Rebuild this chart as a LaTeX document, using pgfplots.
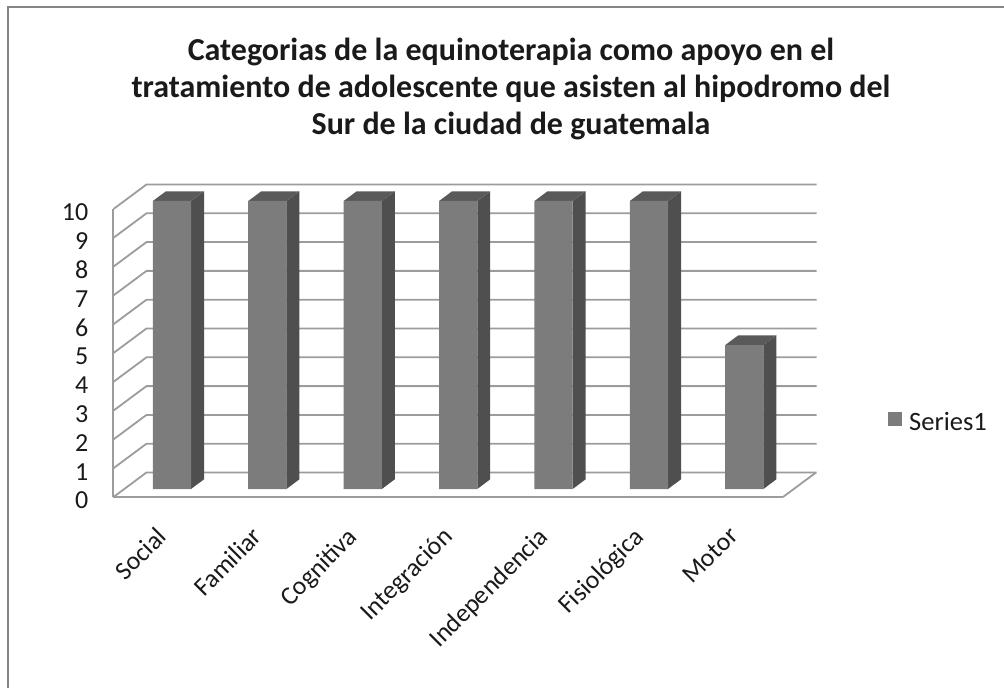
\documentclass[border=0pt]{standalone}
\usepackage{pgfplots}
\pgfplotsset{compat=1.18}
\usepackage{fontspec}
\setmainfont{Carlito}
\definecolor{front}{HTML}{7C7C7C}
\definecolor{side}{HTML}{4F4F4F}
\definecolor{topf}{HTML}{5A5A5A}
\definecolor{gridc}{HTML}{9C9C9C}
\definecolor{txt}{HTML}{1A1A1A}
\begin{document}
\begin{tikzpicture}[x=1pt,y=1pt]
\begin{axis}[
  x=95.4pt, y=28.8pt,
  xmin=-0.613, xmax=6.405, ymin=0, ymax=10,
  clip=false,
  scale only axis,
  axis x line=bottom, axis y line=left,
  x axis line style={gridc,line width=2pt,-},
  y axis line style={gridc,line width=2pt,-},
  xtick={0,1,2,3,4,5,6},
  xticklabels={Social,Familiar,Cognitiva,Integración,Independencia,Fisiológica,Motor},
  ytick={0,1,...,10},
  tick style={draw=none},
  major tick length=0pt,
  /pgf/number format/assume math mode=true,
  xticklabel style={rotate=45,anchor=north east,font=\fontsize{25.8}{25.8}\selectfont,text=txt,inner sep=0pt,xshift=-32pt,yshift=-8.4pt},
  yticklabel style={font=\fontsize{26}{26}\selectfont,text=txt,anchor=east,inner sep=0pt,xshift=-25pt,yshift=-3.5pt},
  legend style={at={(axis cs:6.405,0)},anchor=south west,draw=none,fill=none,xshift=105pt,yshift=63pt,
     font=\fontsize{26.5}{26.5}\selectfont,text=txt,inner sep=0pt,legend cell align=left},
  legend image code/.code={\fill[front] (0pt,-12pt) rectangle (14pt,2pt);},
  barup/.style={yshift=8pt},
]
% walls
\pgfplotsinvokeforeach{0,1,...,10}{
  \draw[gridc,line width=1.8pt] (axis cs:-0.613,#1) -- ++(33pt,24.5pt) -- ++(670pt,0pt);
}
\draw[gridc,line width=1.8pt] (axis cs:6.405,0) -- ++(33pt,24.5pt);
% bar sides and tops
\addplot[barup,forget plot,fill=side,draw=none] coordinates {(0.2,0)(0.336,0.337)(0.336,10.337)(0.2,10)} --cycle;
\addplot[barup,forget plot,fill=topf,draw=none] coordinates {(-0.2,10)(-0.064,10.337)(0.336,10.337)(0.2,10)} --cycle;
\addplot[barup,forget plot,fill=side,draw=none] coordinates {(1.2,0)(1.336,0.337)(1.336,10.337)(1.2,10)} --cycle;
\addplot[barup,forget plot,fill=topf,draw=none] coordinates {(0.8,10)(0.936,10.337)(1.336,10.337)(1.2,10)} --cycle;
\addplot[barup,forget plot,fill=side,draw=none] coordinates {(2.2,0)(2.336,0.337)(2.336,10.337)(2.2,10)} --cycle;
\addplot[barup,forget plot,fill=topf,draw=none] coordinates {(1.8,10)(1.936,10.337)(2.336,10.337)(2.2,10)} --cycle;
\addplot[barup,forget plot,fill=side,draw=none] coordinates {(3.2,0)(3.336,0.337)(3.336,10.337)(3.2,10)} --cycle;
\addplot[barup,forget plot,fill=topf,draw=none] coordinates {(2.8,10)(2.936,10.337)(3.336,10.337)(3.2,10)} --cycle;
\addplot[barup,forget plot,fill=side,draw=none] coordinates {(4.2,0)(4.336,0.337)(4.336,10.337)(4.2,10)} --cycle;
\addplot[barup,forget plot,fill=topf,draw=none] coordinates {(3.8,10)(3.936,10.337)(4.336,10.337)(4.2,10)} --cycle;
\addplot[barup,forget plot,fill=side,draw=none] coordinates {(5.2,0)(5.336,0.337)(5.336,10.337)(5.2,10)} --cycle;
\addplot[barup,forget plot,fill=topf,draw=none] coordinates {(4.8,10)(4.936,10.337)(5.336,10.337)(5.2,10)} --cycle;
\addplot[barup,forget plot,fill=side,draw=none] coordinates {(6.2,0)(6.336,0.337)(6.336,5.337)(6.2,5)} --cycle;
\addplot[barup,forget plot,fill=topf,draw=none] coordinates {(5.8,5)(5.936,5.337)(6.336,5.337)(6.2,5)} --cycle;
\addplot[barup,ybar,bar width=38.3pt,fill=front,draw=none] coordinates {(0,10)(1,10)(2,10)(3,10)(4,10)(5,10)(6,5)};
\addlegendentry{\hspace{5pt}Series1}
% page frame
\path (axis cs:-0.613,0) ++(-113.5pt,-191pt) coordinate (pg);
\path[use as bounding box] (pg) rectangle ++(1004pt,688pt);
\fill[color=gray!95] (pg) ++(7pt,0pt) rectangle ++(2.5pt,681pt);
\fill[color=gray!95] (pg) ++(7pt,679.5pt) rectangle ++(997pt,2pt);
\node[align=center,font=\bfseries\fontsize{32}{37}\selectfont,text=txt,anchor=center] at ([shift={(511pt,599pt)}]pg)
 {Categorias de la equinoterapia como apoyo en el\\tratamiento de adolescente que asisten al hipodromo del\\Sur de la ciudad de guatemala};
\end{axis}
\end{tikzpicture}
\end{document}
